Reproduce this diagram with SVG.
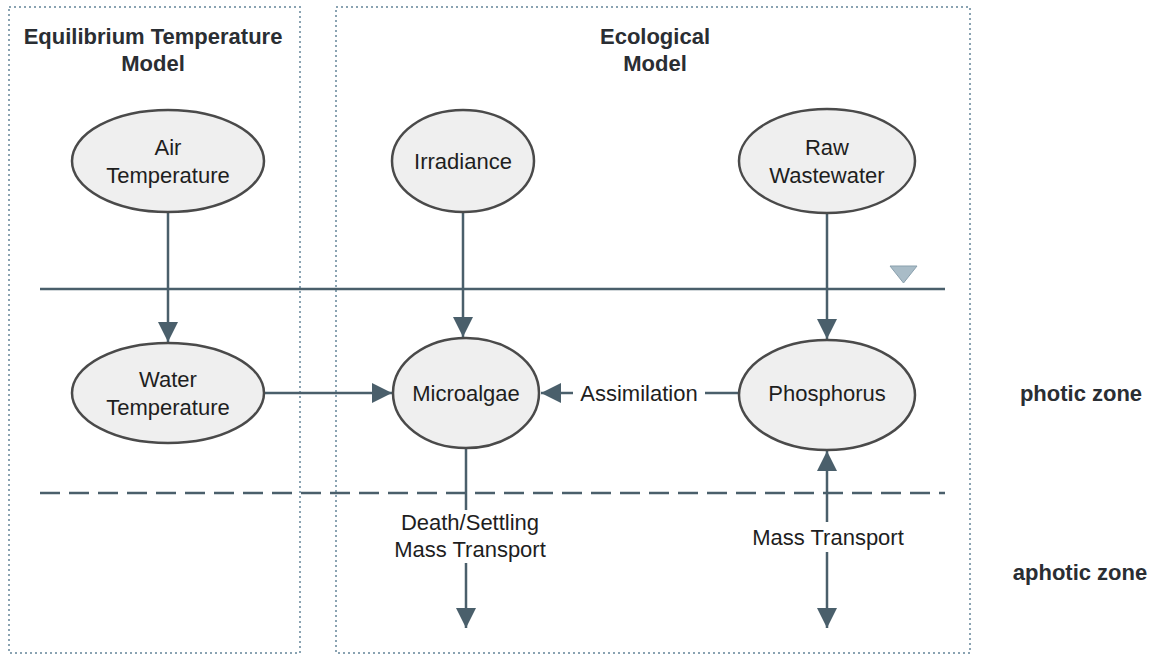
<svg xmlns="http://www.w3.org/2000/svg" width="1161" height="657" viewBox="0 0 1161 657">
<style>
.box{fill:none;stroke:#8aa3b2;stroke-width:2;stroke-dasharray:2 3}
.node{fill:#efefef;stroke:#4a4a4a;stroke-width:2.5}
.t{font-family:"Liberation Sans",Arial,sans-serif;font-size:22px;fill:#1e1e1e;text-anchor:middle}
.b{font-weight:bold;fill:#2a2e33}
.ln{stroke:#4a5f6b;stroke-width:2.5;fill:none}
</style>
<defs>
<marker id="ah" viewBox="0 0 10 10" refX="10" refY="5" markerWidth="8" markerHeight="8" orient="auto-start-reverse" markerUnits="strokeWidth">
<path d="M0,0 L10,5 L0,10 Z" fill="#4a5f6b"/>
</marker>
</defs>
<rect width="1161" height="657" fill="#ffffff"/>
<g id="frames">
<rect class="box" x="9" y="7" width="291" height="646"/>
<rect class="box" x="336" y="7" width="634" height="646"/>
<text class="t b" x="153" y="44">Equilibrium Temperature</text>
<text class="t b" x="153" y="71">Model</text>
<text class="t b" x="655" y="44">Ecological</text>
<text class="t b" x="655" y="71">Model</text>
</g>
<g id="surface">
<line class="ln" x1="40" y1="289" x2="945" y2="289"/>
<path d="M890,266 L917,266 L903.5,283 Z" fill="#a9bcc7" stroke="#8aa0ad" stroke-width="1"/>
<line x1="40" y1="493" x2="945" y2="493" stroke="#4a5f6b" stroke-width="2.5" stroke-dasharray="20 9"/>
</g>
<g id="connectors">
<line class="ln" x1="168" y1="213" x2="168" y2="342" marker-end="url(#ah)"/>
<line class="ln" x1="463" y1="212" x2="463" y2="337" marker-end="url(#ah)"/>
<line class="ln" x1="827" y1="213" x2="827" y2="339" marker-end="url(#ah)"/>
<line class="ln" x1="264" y1="393" x2="392" y2="393" marker-end="url(#ah)"/>
<line class="ln" x1="573" y1="393" x2="541" y2="393" marker-end="url(#ah)"/>
<line class="ln" x1="705" y1="393" x2="739" y2="393"/>
<text class="t" x="639" y="401">Assimilation</text>
<line class="ln" x1="466" y1="448" x2="466" y2="510"/>
<line class="ln" x1="466" y1="563" x2="466" y2="628" marker-end="url(#ah)"/>
<text class="t" x="470" y="530">Death/Settling</text>
<text class="t" x="470" y="557">Mass Transport</text>
<line class="ln" x1="827" y1="522" x2="827" y2="451" marker-end="url(#ah)"/>
<line class="ln" x1="827" y1="552" x2="827" y2="628" marker-end="url(#ah)"/>
<text class="t" x="828" y="545">Mass Transport</text>
</g>
<g id="air">
<ellipse class="node" cx="168" cy="161" rx="96" ry="51"/>
<text class="t" x="168" y="155">Air</text>
<text class="t" x="168" y="183">Temperature</text>
</g>
<g id="irradiance">
<ellipse class="node" cx="463" cy="161" rx="71" ry="51"/>
<text class="t" x="463" y="169">Irradiance</text>
</g>
<g id="raw">
<ellipse class="node" cx="827" cy="161" rx="88" ry="52"/>
<text class="t" x="827" y="155">Raw</text>
<text class="t" x="827" y="183">Wastewater</text>
</g>
<g id="water">
<ellipse class="node" cx="168" cy="393" rx="96" ry="50"/>
<text class="t" x="168" y="387">Water</text>
<text class="t" x="168" y="415">Temperature</text>
</g>
<g id="microalgae">
<ellipse class="node" cx="466" cy="393" rx="73" ry="55"/>
<text class="t" x="466" y="401">Microalgae</text>
</g>
<g id="phosphorus">
<ellipse class="node" cx="827" cy="395" rx="88" ry="55"/>
<text class="t" x="827" y="401">Phosphorus</text>
</g>
<g id="zones">
<text class="t b" x="1081" y="401">photic zone</text>
<text class="t b" x="1080" y="580">aphotic zone</text>
</g>
</svg>
